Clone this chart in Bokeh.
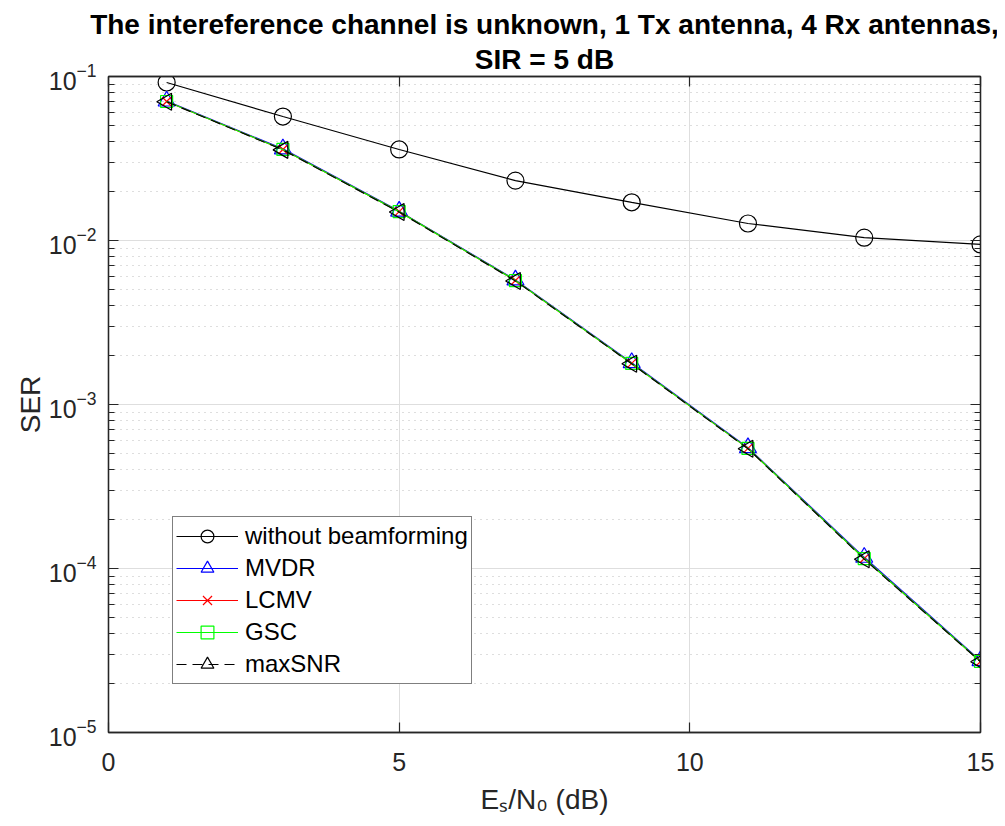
import numpy as np
from bokeh.plotting import figure
from bokeh.models import (FixedTicker, LogAxis, LinearAxis, Legend, LegendItem,
                          CustomJSTickFormatter, Title)
from bokeh.embed import file_html
from bokeh.resources import INLINE

# ---- data ----
esn0 = [1, 3, 5, 7, 9, 11, 13, 15]
ser_none = [0.0919, 0.0570, 0.0359, 0.0232, 0.0171, 0.0127, 0.0104, 0.00946]
ser_mvdr = [0.0708, 0.0362, 0.0151, 0.00575, 0.00180, 0.000545, 0.000117, 2.74e-5]
ser_lcmv = [0.0704, 0.0359, 0.0150, 0.00570, 0.00178, 0.000540, 0.000115, 2.71e-5]
ser_gsc = [0.0704, 0.0359, 0.0150, 0.00570, 0.00178, 0.000540, 0.000115, 2.71e-5]
ser_maxsnr = [0.0702, 0.0357, 0.0149, 0.00567, 0.00177, 0.000537, 0.000114, 2.70e-5]

x_ticks = [0, 5, 10, 15]
y_ticks = [1e-5, 1e-4, 1e-3, 1e-2, 1e-1]
y_minor = [m * 10.0 ** k for k in range(-5, -1) for m in range(2, 10)]

title_lines = ["The intereference channel is unknown, 1 Tx antenna, 4 Rx antennas,",
               "SIR = 5 dB"]
x_label = "Eₛ/N₀ (dB)"
y_label = "SER"

FONT = "Liberation Sans"
AX = "#262626"

p = figure(frame_width=872, frame_height=656,
           x_range=(0, 15), y_range=(1e-5, 1e-1), y_axis_type="log",
           output_backend="svg", toolbar_location=None,
           min_border_left=108, min_border_right=17,
           min_border_top=76, min_border_bottom=40,
           background_fill_color="white", border_fill_color="white")
p.title = None
p.outline_line_color = AX
p.outline_line_width = 1.3

xt = FixedTicker(ticks=x_ticks, minor_ticks=[])
yt = FixedTicker(ticks=y_ticks, minor_ticks=y_minor)


def style_axis(ax, labels=True):
    ax.axis_line_color = AX
    ax.axis_line_width = 1.3
    ax.major_tick_line_color = AX
    ax.minor_tick_line_color = AX
    ax.major_tick_line_width = 1.2
    ax.minor_tick_line_width = 1.2
    ax.major_tick_in = 10
    ax.major_tick_out = 0
    ax.minor_tick_in = 6
    ax.minor_tick_out = 0
    ax.major_label_text_font = FONT
    ax.major_label_text_font_size = "25px"
    ax.major_label_text_color = AX
    ax.axis_label_text_font = FONT
    ax.axis_label_text_font_size = "28px"
    ax.axis_label_text_font_style = "normal"
    ax.axis_label_text_color = AX
    if not labels:
        ax.formatter = CustomJSTickFormatter(code="return ''")
        ax.major_label_standoff = 0
        ax.major_label_text_font_size = "0px"


xa = p.xaxis[0]
xa.ticker = xt
style_axis(xa)
xa.minor_tick_in = 0
xa.major_label_standoff = 20
xa.axis_label = x_label
xa.axis_label_standoff = 10

ya = p.yaxis[0]
ya.ticker = yt
style_axis(ya)
ya.major_label_standoff = 12
ya.axis_label = y_label
ya.axis_label_standoff = 0

top = LinearAxis(ticker=xt)
style_axis(top, labels=False)
top.minor_tick_in = 0
top.major_label_standoff = 5
p.add_layout(top, "above")
right = LogAxis(ticker=yt)
style_axis(right, labels=False)
p.add_layout(right, "right")

# two centred title lines (the one added later sits higher)
for txt, so in [(title_lines[1], 4), (title_lines[0], 0)]:
    p.add_layout(Title(text=txt, align="center", text_font=FONT, text_font_size="28px",
                       text_font_style="bold", text_color="black", standoff=so), "above")

p.xgrid.ticker = xt
p.ygrid.ticker = yt
p.xgrid.grid_line_color = "#dedede"
p.ygrid.grid_line_color = "#dedede"
p.ygrid.minor_grid_line_color = "#bdbdbd"
p.ygrid.minor_grid_line_dash = "1 5"
p.ygrid.minor_grid_line_width = 1

lw = 1.2
l0 = p.line(esn0, ser_none, line_color="black", line_width=lw)
m0 = p.scatter(esn0, ser_none, marker="circle", size=17, fill_color=None,
               line_color="black", line_width=lw)
l1 = p.line(esn0, ser_mvdr, line_color="#0000ff", line_width=lw)
m1 = p.scatter(esn0, ser_mvdr, marker="triangle", size=17, fill_color=None,
               line_color="#0000ff", line_width=lw)
l2 = p.line(esn0, ser_lcmv, line_color="#ff0000", line_width=lw)
m2 = p.scatter(esn0, ser_lcmv, marker="x", size=12, line_color="#ff0000", line_width=lw)
l3 = p.line(esn0, ser_gsc, line_color="#00ff00", line_width=lw)
m3 = p.scatter(esn0, ser_gsc, marker="square", size=12, fill_color=None,
               line_color="#00ff00", line_width=lw)
l4 = p.line(esn0, ser_maxsnr, line_color="black", line_width=lw, line_dash="10 6")
m4 = p.scatter(esn0, ser_maxsnr, marker="triangle", angle=np.pi / 2, size=17,
               fill_color=None, line_color="black", line_width=lw)

legend = Legend(items=[
    LegendItem(label="without beamforming", renderers=[l0, m0]),
    LegendItem(label="MVDR", renderers=[l1, m1]),
    LegendItem(label="LCMV", renderers=[l2, m2]),
    LegendItem(label="GSC", renderers=[l3, m3]),
    LegendItem(label="maxSNR", renderers=[l4, m4]),
], location=(64, 48))
legend.label_text_font = FONT
legend.label_text_font_size = "24px"
legend.label_text_color = "black"
legend.glyph_width = 62
legend.glyph_height = 32
legend.label_height = 32
legend.label_standoff = 7
legend.spacing = 0
legend.padding = 3
legend.margin = 0
legend.border_line_color = "black"
legend.border_line_width = 1
legend.background_fill_alpha = 1
p.add_layout(legend, "center")

open("out.html", "w").write(file_html(p, INLINE))
